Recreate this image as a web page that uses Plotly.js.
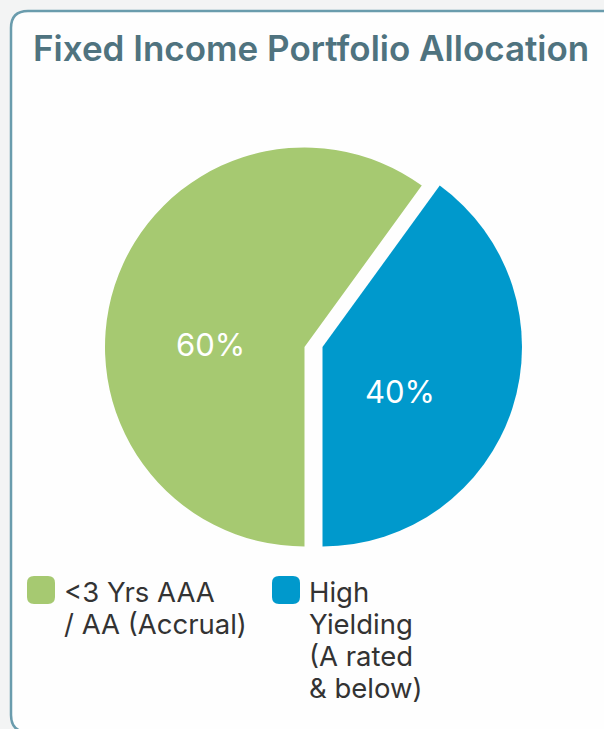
<!DOCTYPE html>
<html>
<head>
<meta charset="utf-8">
<script src="https://cdn.plot.ly/plotly-3.0.1.min.js"></script>
<style>
  html, body { margin: 0; padding: 0; background: #f3f4f4; }
  #chart { width: 604px; height: 729px; }
</style>
</head>
<body>
<div id="chart"></div>
<script>
// ---- data ----
const chartTitle = "Fixed Income Portfolio Allocation";
const labels = ["<3 Yrs AAA / AA (Accrual)", "High Yielding (A rated & below)"];
const values = [60, 40];
const colors = ["#A6C971", "#0099CC"];
const legendLines = [["&lt;3 Yrs AAA", "/ AA (Accrual)"], ["High", "Yielding", "(A rated", "&amp; below)"]];

// ---- layout helpers ----
const W = 604, H = 729;
const px = x => x / W;
const py = y => 1 - y / H;
const FONT = "Inter, 'Noto Sans', sans-serif";

// pie geometry (pixels)
const cx = 304.5, cy = 347, r = 199.5, shift = 18;
const total = values.reduce((a, b) => a + b, 0);
const pctText = values.map(v => Math.round(v / total * 100) + "%");

const traces = values.map((_, i) => ({
  type: "pie",
  labels: labels,
  values: values,
  sort: false,
  direction: "clockwise",
  rotation: 180,
  showlegend: false,
  hoverinfo: "skip",
  textinfo: "none",
  marker: {
    colors: colors.map((c, j) => j === i ? c : "rgba(0,0,0,0)"),
    line: { width: 0 }
  },
  domain: {
    x: [px(cx - r + i * shift), px(cx + r + i * shift)],
    y: [py(cy + r), py(cy - r)]
  }
}));

function roundRect(x0, y0, x1, y1, rad) {
  return `M ${px(x0 + rad)} ${py(y0)} L ${px(x1 - rad)} ${py(y0)} Q ${px(x1)} ${py(y0)} ${px(x1)} ${py(y0 + rad)} ` +
         `L ${px(x1)} ${py(y1 - rad)} Q ${px(x1)} ${py(y1)} ${px(x1 - rad)} ${py(y1)} ` +
         `L ${px(x0 + rad)} ${py(y1)} Q ${px(x0)} ${py(y1)} ${px(x0)} ${py(y1 - rad)} ` +
         `L ${px(x0)} ${py(y0 + rad)} Q ${px(x0)} ${py(y0)} ${px(x0 + rad)} ${py(y0)} Z`;
}

const shapes = [{
  type: "path", xref: "paper", yref: "paper", layer: "below",
  path: roundRect(11, 11, 640, 732, 17),
  fillcolor: "#fefefe",
  line: { color: "#6a9cad", width: 2.5 }
}];

const annotations = [];

// slice percentage labels (text from the data)
const labelPos = [[210, 345], [400, 391]];
pctText.forEach((t, i) => {
  annotations.push({
    xref: "paper", yref: "paper",
    x: px(labelPos[i][0]), y: py(labelPos[i][1]),
    xanchor: "center", yanchor: "middle", showarrow: false,
    text: t,
    font: { family: FONT, size: 31, color: "#ffffff" }
  });
});

// legend
const legendX = [27, 272];
const legendY = 576, mk = 28, lineGap = 32;
colors.forEach((c, i) => {
  shapes.push({
    type: "path", xref: "paper", yref: "paper",
    path: roundRect(legendX[i], legendY, legendX[i] + mk, legendY + mk, 7),
    fillcolor: c, line: { width: 0 }
  });
  legendLines[i].forEach((ln, k) => {
    annotations.push({
      xref: "paper", yref: "paper",
      x: px(legendX[i] + mk + 7), y: py(legendY + 16 + k * lineGap),
      xanchor: "left", yanchor: "middle", align: "left",
      showarrow: false,
      text: ln,
      font: { family: FONT, size: 27.5, color: "#333333" }
    });
  });
});

const layout = {
  width: W, height: H,
  margin: { l: 0, r: 0, t: 0, b: 0 },
  paper_bgcolor: "#f3f4f4",
  plot_bgcolor: "rgba(0,0,0,0)",
  title: {
    text: chartTitle,
    x: px(33), xref: "paper", xanchor: "left",
    y: py(49), yref: "container", yanchor: "middle",
    font: { family: FONT, size: 35, weight: 600, color: "#4f737f" }
  },
  shapes: shapes,
  annotations: annotations,
  showlegend: false
};

Plotly.newPlot("chart", traces, layout, { staticPlot: true, displayModeBar: false });
</script>
</body>
</html>
